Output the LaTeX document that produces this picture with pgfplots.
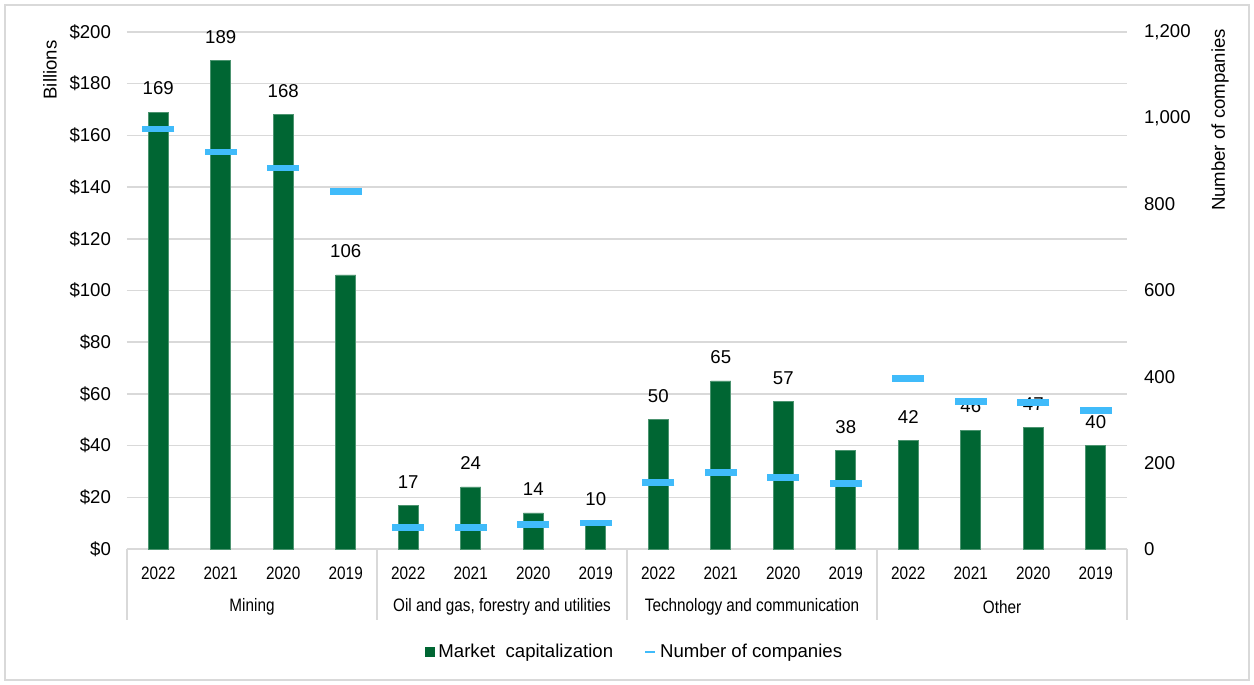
\documentclass[border=0pt]{standalone}
\usepackage{pgfplots}
\pgfplotsset{compat=1.18}
\usepackage{fontspec}
\setmainfont{Liberation Sans}
\newfontfamily\condfont{Liberation Sans}[FakeStretch=0.85]
\definecolor{bargreen}{RGB}{0,102,51}
\definecolor{markblue}{RGB}{64,187,250}
\definecolor{gridgrey}{RGB}{217,217,217}
\pgfplotstableread{
x cap
0 169
1 189
2 168
3 106
4 17
5 24
6 14
7 10
8 50
9 65
10 57
11 38
12 42
13 46
14 47
15 40
}\captable
\pgfplotstableread{
x num
0 975
1 921
2 884
3 830
4 50
5 50
6 57
7 60
8 155
9 178
10 166
11 152
12 396
13 343
14 340
15 322
}\numtable
\begin{document}
\begin{tikzpicture}[font=\fontsize{9.3}{11}\selectfont]
\useasboundingbox (0,0) rectangle (627pt,342.5pt);
\draw[gridgrey, line width=1pt] (2.5pt,2.5pt) rectangle (624.5pt,340pt);
\begin{axis}[
  at={(63.5pt,68pt)}, anchor=south west,
  scale only axis, width=500pt, height=258.5pt,
  xmin=-0.5, xmax=15.5, ymin=0, ymax=200,
  axis x line*=bottom, axis y line*=left,
  y axis line style={draw=none},
  x axis line style={gridgrey, line width=0.75pt},
  ytick={0,20,...,200},
  yticklabel={\$\pgfmathprintnumber{\tick}},
  ymajorgrids, grid style={gridgrey, line width=0.75pt},
  major tick length=0,
  xtick={0,...,15},
  xticklabels={2022,2021,2020,2019,2022,2021,2020,2019,2022,2021,2020,2019,2022,2021,2020,2019},
  /pgf/number format/assume math mode=true,
  yticklabel style={font=\fontsize{9.3}{11}\selectfont, xshift=-4.5pt},
  xticklabel style={font=\condfont\fontsize{9}{11}\selectfont, yshift=-5.5pt},
  ybar, bar width=10pt,
  nodes near coords,
  nodes near coords style={font=\fontsize{9.3}{11}\selectfont, black, yshift=5pt},
  clip=false,
  legend style={at={(0.5085,-0.199)}, anchor=center, draw=none, legend columns=2,
    font=\fontsize{9.3}{11}\selectfont,
    /tikz/every even column/.append style={column sep=13.5pt}},
]
\addplot[fill=bargreen, draw=bargreen!70!white, line width=0.3pt,
  legend image code/.code={\fill[bargreen] (0pt,-2.25pt) rectangle (4.5pt,2.25pt);}]
  table[x=x, y=cap] {\captable};
\addlegendentry{Market\ \ capitalization}
\addlegendimage{legend image code/.code={\draw[markblue, line width=1pt] (0pt,0pt) -- (5pt,0pt);}}
\addlegendentry{Number of companies}
\draw[gridgrey, line width=0.75pt] (axis cs:-0.5,0) -- ([yshift=-35.5pt]axis cs:-0.5,0);
\draw[gridgrey, line width=0.75pt] (axis cs:3.5,0) -- ([yshift=-35.5pt]axis cs:3.5,0);
\draw[gridgrey, line width=0.75pt] (axis cs:7.5,0) -- ([yshift=-35.5pt]axis cs:7.5,0);
\draw[gridgrey, line width=0.75pt] (axis cs:11.5,0) -- ([yshift=-35.5pt]axis cs:11.5,0);
\draw[gridgrey, line width=0.75pt] (axis cs:15.5,0) -- ([yshift=-35.5pt]axis cs:15.5,0);
\begin{scope}[every node/.style={font=\condfont\fontsize{9}{11}\selectfont}]
\node at (axis cs:1.5,0) [yshift=-29pt] {Mining};
\node at (axis cs:5.5,0) [yshift=-29pt] {Oil and gas, forestry and utilities};
\node at (axis cs:9.5,0) [yshift=-29pt] {Technology and communication};
\node at (axis cs:13.5,0) [yshift=-29pt] {Other};
\end{scope}
\end{axis}
\begin{axis}[
  at={(63.5pt,68pt)}, anchor=south west,
  scale only axis, width=500pt, height=258.5pt,
  xmin=-0.5, xmax=15.5, ymin=0, ymax=1200,
  axis y line*=right, axis x line=none,
  y axis line style={draw=none},
  ytick={0,200,...,1200},
  major tick length=0,
  /pgf/number format/assume math mode=true,
  /pgf/number format/1000 sep={,},
  yticklabel style={font=\fontsize{9.3}{11}\selectfont, xshift=5pt},
  clip=false,
]
\addplot[only marks, mark=-, mark size=8pt, mark options={line width=3.3pt, draw=markblue}]
  table[x=x, y=num] {\numtable};
\end{axis}
\node[rotate=90] at (25pt,307.5pt) {Billions};
\node[rotate=90] at (610pt,282.5pt) {Number of companies};
\end{tikzpicture}
\end{document}
